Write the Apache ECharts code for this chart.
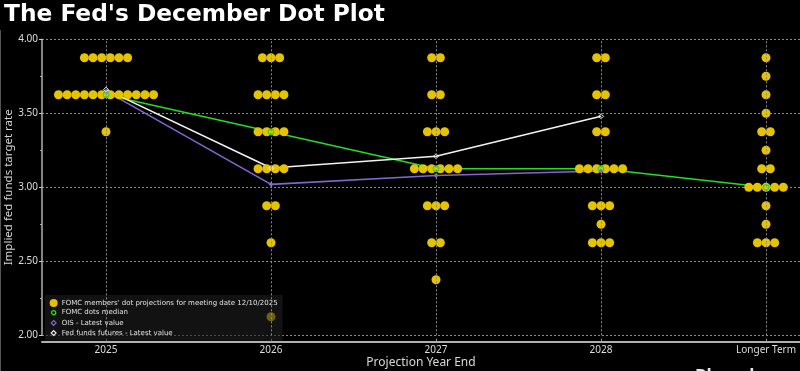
<!DOCTYPE html>
<html>
<head>
<meta charset="utf-8">
<script src="https://cdn.jsdelivr.net/npm/echarts@6/dist/echarts.min.js"></script>
<style>
html,body{margin:0;padding:0;background:#000;}
#chart{width:800px;height:371px;}
</style>
</head>
<body>
<div id="chart"></div>
<script>
const categories = ['2025', '2026', '2027', '2028', 'Longer Term'];
const rateLevels = [3.875, 3.75, 3.625, 3.5, 3.375, 3.25, 3.125, 3.0, 2.875, 2.75, 2.625, 2.5, 2.375, 2.25, 2.125];
const dots2025   = [6, 0, 12, 0, 1, 0, 0, 0, 0, 0, 0, 0, 0, 0, 0];
const dots2026   = [3, 0, 4, 0, 4, 0, 4, 0, 2, 0, 1, 0, 0, 0, 1];
const dots2027   = [2, 0, 2, 0, 3, 0, 6, 0, 3, 0, 2, 0, 1, 0, 0];
const dots2028   = [2, 0, 2, 0, 2, 0, 6, 0, 3, 1, 3, 0, 0, 0, 0];
const dotsLonger = [1, 1, 1, 1, 2, 1, 2, 5, 1, 1, 3, 0, 0, 0, 0];
const fomcMedian    = [3.625, 3.375, 3.125, 3.125, 3.0];
const oisLatest     = [3.65, 3.02, 3.08, 3.11];
const futuresLatest = [3.66, 3.13, 3.21, 3.48];
const yTicks = [2.0, 2.5, 3.0, 3.5, 4.0];

const dotCounts = [dots2025, dots2026, dots2027, dots2028, dotsLonger];
const DOT_STEP = 0.0524;
const dotData = [];
dotCounts.forEach((counts, i) => {
  counts.forEach((n, j) => {
    for (let k = 0; k < n; k++) {
      dotData.push([i + (k - (n - 1) / 2) * DOT_STEP, rateLevels[j]]);
    }
  });
});
const toPairs = arr => arr.map((v, i) => [i, v]);

const NAME_DOTS = "FOMC members' dot projections for meeting date 12/10/2025";
const NAME_MED = 'FOMC dots median';
const NAME_OIS = 'OIS - Latest value';
const NAME_FF = 'Fed funds futures - Latest value';
const GOLD = '#e6c300';
const GREEN = '#22dd22';
const PURPLE = '#8465cf';
const WHITE = '#f2f2f2';
const smallCircle = 'path://M0,0M10,10M5,2.4A2.6,2.6,0,1,1,4.99,2.4Z';
const smallDiamond = 'path://M0,0M10,10M5,2L8,5L5,8L2,5Z';

const chart = echarts.init(document.getElementById('chart'), null, {renderer: 'canvas'});
chart.setOption({
  backgroundColor: '#000',
  animation: false,
  title: {
    text: "The Fed's December Dot Plot",
    left: 4, top: 3, padding: 0,
    textStyle: {color: '#ffffff', fontSize: 23.3, fontWeight: 'bold', fontFamily: 'DejaVu Sans'}
  },
  graphic: [
    {
      type: 'text', left: 695, top: 369, silent: true,
      style: {text: 'Bloomberg', fill: '#e6e6e6', fontSize: 17, fontWeight: 'bold', fontFamily: 'Open Sans'}
    },
    {
      type: 'line', silent: true,
      shape: {x1: 0.5, y1: 30, x2: 0.5, y2: 371},
      style: {stroke: '#555', lineWidth: 1}
    }
  ],
  legend: {
    left: 45, top: 295, orient: 'vertical',
    padding: [4, 5, 3, 4],
    itemGap: 1, itemWidth: 10, itemHeight: 8,
    backgroundColor: 'rgba(30,30,30,0.6)',
    textStyle: {color: '#e0e0e0', fontSize: 7, fontFamily: 'DejaVu Sans', padding: [0, 0, 0, -2]},
    data: [
      {name: NAME_DOTS, icon: 'circle', itemStyle: {color: GOLD}},
      {name: NAME_MED, icon: smallCircle, itemStyle: {color: 'transparent', borderColor: GREEN, borderWidth: 1.3}},
      {name: NAME_OIS, icon: smallDiamond, itemStyle: {color: 'transparent', borderColor: PURPLE, borderWidth: 1.2}},
      {name: NAME_FF, icon: smallDiamond, itemStyle: {color: 'transparent', borderColor: WHITE, borderWidth: 1.2}}
    ]
  },
  grid: {left: 42, right: 0, top: 39.3, bottom: 35.7, containLabel: false, outerBoundsMode: 'none'},
  xAxis: {
    type: 'value', min: -0.388, max: 4.206, offset: 6.4,
    name: 'Projection Year End', nameLocation: 'middle', nameGap: 15, nameMoveOverlap: false,
    nameTextStyle: {color: '#d8d8d8', fontSize: 12, fontFamily: 'Noto Sans'},
    axisLine: {show: true, onZero: false, lineStyle: {color: '#b0b0b0', width: 2}},
    axisTick: {show: true, customValues: [0, 1, 2, 3, 4], inside: true, length: 3, lineStyle: {color: '#999'}},
    axisLabel: {
      customValues: [0, 1, 2, 3, 4], margin: 3,
      color: '#dddddd', fontSize: 10, fontFamily: 'Noto Sans',
      formatter: v => categories[Math.round(v)]
    },
    splitLine: {show: false}
  },
  yAxis: {
    type: 'value', min: 2, max: 4, interval: 0.5,
    name: 'Implied fed funds target rate', nameLocation: 'middle', nameGap: 27, nameMoveOverlap: false,
    nameTextStyle: {color: '#d8d8d8', fontSize: 11.5, fontFamily: 'Noto Sans'},
    axisLine: {show: true, onZero: false, lineStyle: {color: '#b0b0b0', width: 1.5}},
    axisTick: {show: true, length: 3, lineStyle: {color: '#cccccc'}},
    minorTick: {show: true, splitNumber: 2, length: 2, lineStyle: {color: '#aaaaaa'}},
    axisLabel: {color: '#dddddd', fontSize: 10, fontFamily: 'Noto Sans', margin: 4,
      customValues: yTicks, formatter: v => v.toFixed(2)},
    splitLine: {show: true, lineStyle: {color: '#8a8a8a', type: [2, 2], width: 1}}
  },
  series: [
    {
      name: 'vgrid', type: 'line', data: [], z: 0, silent: true,
      markLine: {
        silent: true, symbol: 'none', label: {show: false},
        lineStyle: {color: '#8a8a8a', type: [2, 2], width: 1},
        data: categories.map((c, i) => ({xAxis: i}))
      }
    },
    {name: 'median-line', type: 'line', data: toPairs(fomcMedian), z: 1, showSymbol: false,
      lineStyle: {color: GREEN, width: 1.6}, silent: true},
    {name: 'ois-line', type: 'line', data: toPairs(oisLatest), z: 1, showSymbol: false,
      lineStyle: {color: PURPLE, width: 1.6}, silent: true},
    {name: 'ff-line', type: 'line', data: toPairs(futuresLatest), z: 1, showSymbol: false,
      lineStyle: {color: WHITE, width: 1.6}, silent: true},
    {name: NAME_DOTS, type: 'scatter', data: dotData, z: 2, symbol: 'circle', symbolSize: 9,
      itemStyle: {color: GOLD, opacity: 1}},
    {name: NAME_MED, type: 'scatter', data: toPairs(fomcMedian), z: 3, symbol: 'circle', symbolSize: 5.5,
      itemStyle: {color: 'transparent', borderColor: GREEN, borderWidth: 1.2, opacity: 1}},
    {name: NAME_OIS, type: 'scatter', data: toPairs(oisLatest), z: 3, symbol: 'diamond', symbolSize: 5,
      itemStyle: {color: PURPLE, opacity: 1}},
    {name: NAME_FF, type: 'scatter', data: toPairs(futuresLatest), z: 3, symbol: 'diamond', symbolSize: 5,
      itemStyle: {color: 'transparent', borderColor: WHITE, borderWidth: 1, opacity: 1}}
  ]
});
</script>
</body>
</html>
